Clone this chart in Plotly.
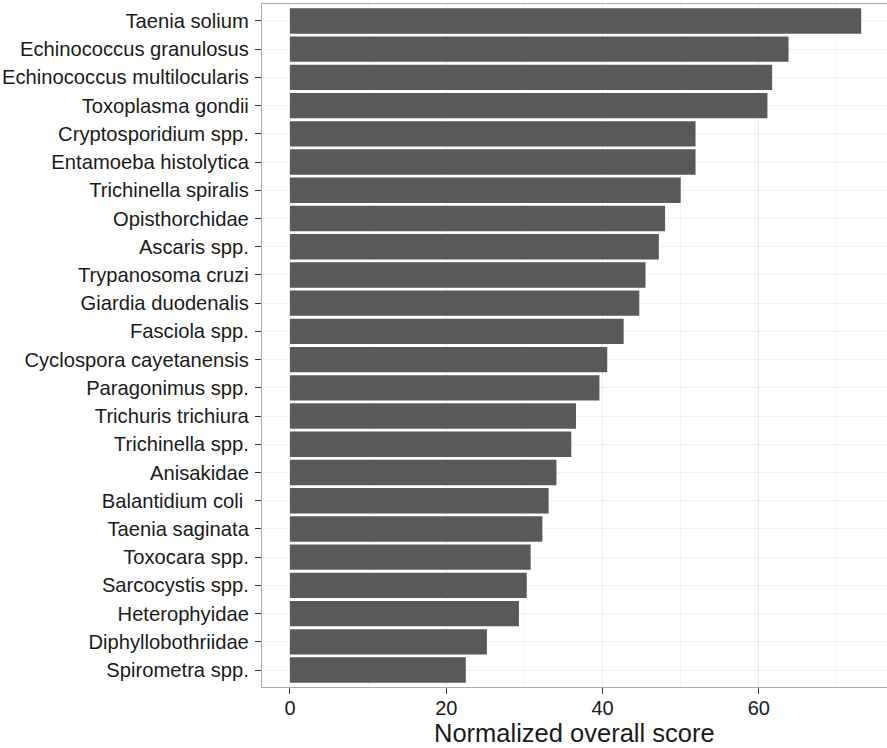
import plotly.graph_objects as go

species = [
    "Taenia solium", "Echinococcus granulosus", "Echinococcus multilocularis",
    "Toxoplasma gondii", "Cryptosporidium spp.", "Entamoeba histolytica",
    "Trichinella spiralis", "Opisthorchidae", "Ascaris spp.", "Trypanosoma cruzi",
    "Giardia duodenalis", "Fasciola spp.", "Cyclospora cayetanensis",
    "Paragonimus spp.", "Trichuris trichiura", "Trichinella spp.", "Anisakidae",
    "Balantidium coli ", "Taenia saginata", "Toxocara spp.", "Sarcocystis spp.",
    "Heterophyidae", "Diphyllobothriidae", "Spirometra spp.",
]
scores = [
    73.1, 63.8, 61.7, 61.1, 51.9, 51.9, 50.0, 48.0, 47.2, 45.5, 44.7, 42.7,
    40.6, 39.6, 36.6, 36.0, 34.1, 33.1, 32.3, 30.8, 30.3, 29.3, 25.2, 22.5,
]
x_ticks = [0, 20, 40, 60]
x_minor = [10, 30, 50, 70]
x_title = "Normalized overall score"

font = "Liberation Sans, Arial, sans-serif"

fig = go.Figure(go.Bar(
    x=scores, y=species, orientation="h",
    marker=dict(color="#595959", line=dict(width=0)),
    width=0.9,
))

fig.update_layout(
    width=887, height=748,
    margin=dict(l=262, r=0, t=4, b=61, autoexpand=False),
    plot_bgcolor="white", paper_bgcolor="white",
    showlegend=False,
    font=dict(family=font, color="#1a1a1a"),
)
fig.update_xaxes(
    automargin=False,
    range=[-3.58, 76.4],
    tickvals=x_ticks,
    ticks="outside", ticklen=6, tickcolor="#333333", tickwidth=1,
    tickfont=dict(size=20, color="#1a1a1a"),
    ticklabelstandoff=-3,
    showgrid=True, gridcolor="#ebebeb", gridwidth=1,
    minor=dict(tickvals=x_minor, showgrid=True, gridcolor="#f4f4f4", gridwidth=0.6, ticks=""),
    zeroline=False,
    showline=True, linecolor="#aaaaaa", linewidth=1.2, mirror=True,
)
fig.update_yaxes(
    automargin=False,
    categoryorder="array", categoryarray=species,
    range=[23.6, -0.6],
    ticks="outside", ticklen=6, tickcolor="#333333", tickwidth=1,
    tickfont=dict(size=20.2, color="#1a1a1a"),
    showgrid=True, gridcolor="#f0f0f0", gridwidth=1,
    zeroline=False,
    showline=True, linecolor="#aaaaaa", linewidth=1.2, mirror=True,
    ticklabelstandoff=2,
)
fig.add_annotation(
    text=x_title, xref="paper", yref="paper", x=0.5, y=0, yshift=-61,
    xanchor="center", yanchor="bottom", showarrow=False, borderpad=0,
    font=dict(size=25.5, color="#1a1a1a", family=font),
)

fig.write_html(
    "out.html",
    config={"displayModeBar": False},
    post_script="document.body.style.margin='0px';document.body.style.overflow='hidden';",
)
